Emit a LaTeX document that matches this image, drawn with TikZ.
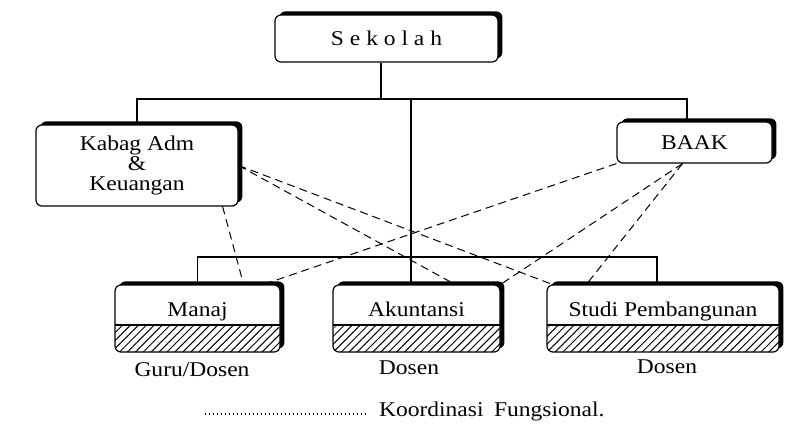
\documentclass[tikz,border=0pt]{standalone}
\usepackage{fontspec}
\setmainfont[FakeStretch=1.12]{Liberation Serif}
\usepackage{xcolor}
\usetikzlibrary{shadows,patterns.meta}

\tikzset{
  box/.style={draw, line width=0.6pt, rounded corners=3pt, fill=white, align=center,
    font=\fontsize{10.5}{10}\selectfont,
    drop shadow={shadow xshift=2.2pt, shadow yshift=1.8pt, fill=black, opacity=1}},
  unitbox/.style={box, minimum height=33.5pt, inner ysep=3pt, text height=12.5pt, text depth=15pt,
    path picture={
      \fill[pattern={Lines[angle=45, distance=2.8pt, line width=0.5pt]}]
        (path picture bounding box.south west)
        rectangle ([yshift=13.5pt]path picture bounding box.south east);
      \draw[line width=0.6pt] ([yshift=13.5pt]path picture bounding box.south west)
        -- ([yshift=13.5pt]path picture bounding box.south east);}},
  tree/.style={line width=0.8pt},
  coord/.style={dash pattern=on 4pt off 2.5pt, line width=0.5pt},
  caption/.style={font=\fontsize{10.5}{12}\selectfont}
}

\begin{document}
\begin{tikzpicture}[x=0.5pt, y=-0.5pt]

  \useasboundingbox (0,0) rectangle (799,424);

  % The boxes
  \node[box, minimum width=111.5pt, minimum height=23.5pt] (sekolah) at (386.5,38.5) {S e k o l a h};
  \node[box, minimum width=101pt, minimum height=40.5pt] (kabag) at (137,165.5) {Kabag Adm\\\&\\Keuangan};
  \node[box, minimum width=77.5pt, minimum height=20.5pt] (baak) at (694.5,142.5) {BAAK};
  \node[unitbox, minimum width=82.5pt] (manaj) at (197.5,318.5) {Manaj};
  \node[unitbox, minimum width=83.5pt] (akun) at (416.5,318.5) {Akuntansi};
  \node[unitbox, minimum width=116pt] (studi) at (663,318.5) {Studi Pembangunan};

  % Lines of command
  \coordinate (busA) at (381,99);
  \coordinate (busB) at (411,257);
  \coordinate (baakIn) at ([xshift=-3.75pt]baak.north);
  \coordinate (akunIn) at ([xshift=-2.75pt]akun.north);
  \coordinate (studiIn) at ([xshift=-3pt]studi.north);
  \draw[tree] (sekolah.south -| busA) -- (busA);
  \draw[tree] (kabag.north) |- (busA) -| (baakIn);
  \draw[tree] (akunIn |- busA) -- (akunIn);
  \draw[tree] (manaj.north) |- (busB) -| (studiIn);

  % Lines of coordination
  \coordinate (kabagOut) at ([xshift=-8pt]kabag.south east);
  \coordinate (baakOut) at ([xshift=-6pt]baak.south);
  \coordinate (manajA) at ([xshift=-18.5pt]manaj.north east);
  \coordinate (manajB) at ([xshift=-8.5pt]manaj.north east);
  \coordinate (akunA) at ([xshift=19.25pt]akun.north);
  \coordinate (studiA) at ([xshift=3pt]studi.north west);
  \coordinate (studiB) at ([xshift=20pt]studi.north west);
  \foreach \a/\b in {kabag.east/studiA, kabag.east/akunA, kabagOut/manajA,
                     baak.south west/manajB, baakOut/akun.north east, baakOut/studiB}
    \draw[coord] (\a) -- (\b);

  % Staff under each unit
  \node[caption] (guru) at (192,370) {Guru/Dosen};
  \node[caption] (dosenA) at (409,368) {Dosen};
  \node[caption] (dosenB) at (667,367) {Dosen};

  % Legend
  \coordinate (legA) at (205,414);
  \coordinate (legB) at (367,414);
  \draw[dash pattern=on 0.7pt off 1.3pt, line width=0.7pt] (legA) -- (legB);
  \node[caption, anchor=west] (legend) at (372,411) {Koordinasi\enspace Fungsional.};

\end{tikzpicture}
\end{document}
